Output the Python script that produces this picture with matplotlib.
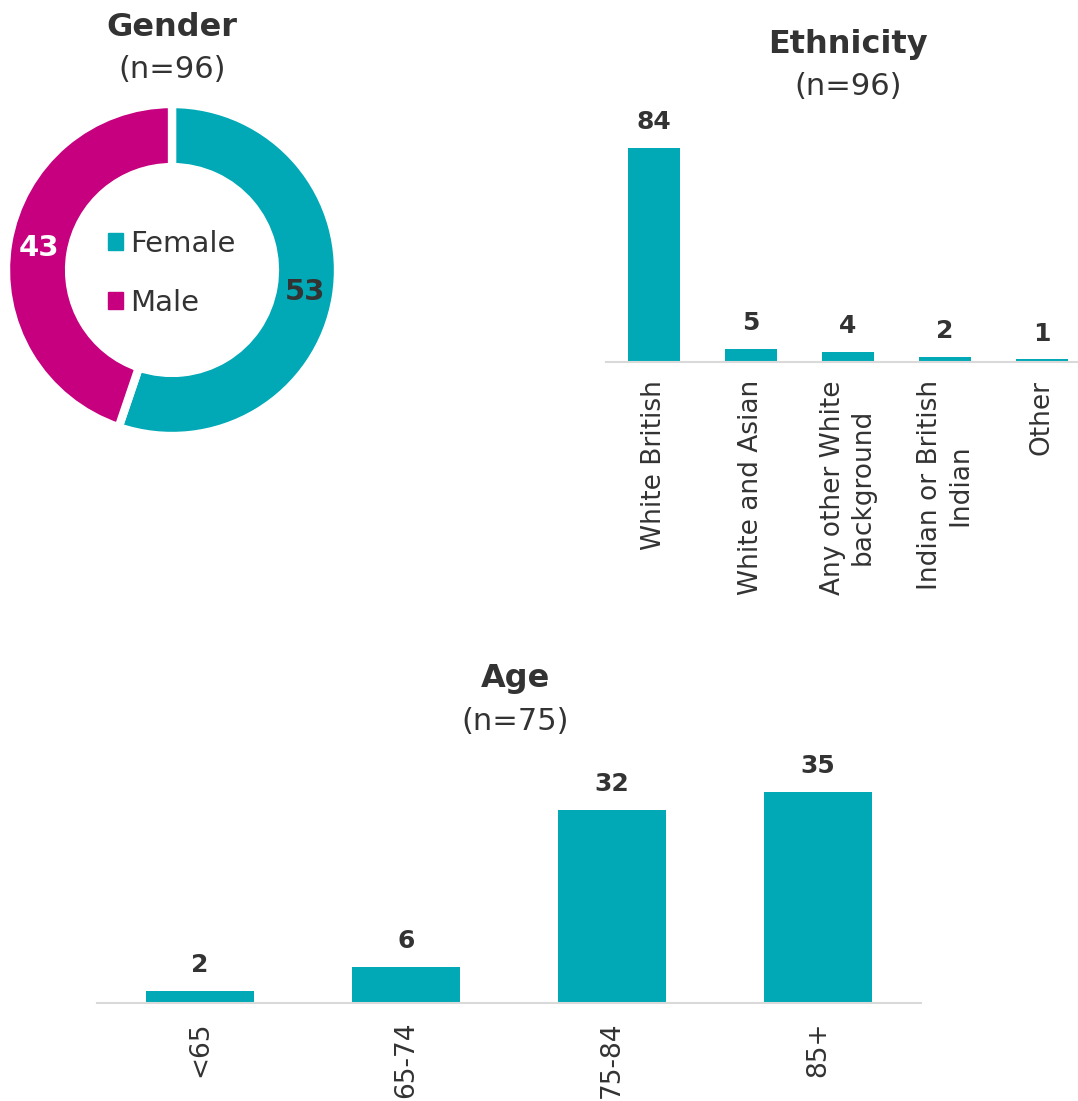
import numpy as np
import matplotlib
matplotlib.use("Agg")
import matplotlib.pyplot as plt
from matplotlib.patches import Patch

# data
gender_labels = ["Female", "Male"]
gender_counts = [53, 43]

eth_labels = ["White British", "White and Asian", "Any other White\nbackground",
              "Indian or British\nIndian", "Other"]
eth_counts = [84, 5, 4, 2, 1]

age_labels = ["<65", "65-74", "75-84", "85+"]
age_counts = [2, 6, 32, 35]

teal = "#00A9B5"
magenta = "#C6007E"
dark = "#333333"
W, H = 1078, 1101

plt.rcParams["font.family"] = "DejaVu Sans"

fig = plt.figure(figsize=(W / 100, H / 100), dpi=100)


def fx(px):
    return px / W


def fy(py):
    return 1 - py / H


def title(x, y, main, sub):
    fig.text(fx(x), fy(y), main, ha="center", va="center", fontsize=23,
             fontweight="bold", color=dark)
    fig.text(fx(x), fy(y + 42), sub, ha="center", va="center", fontsize=22,
             color=dark)


# ---- Gender donut ----
r = 166
ax1 = fig.add_axes([fx(172 - r), fy(270 + r), 2 * r / W, 2 * r / H])
total = sum(gender_counts)
wedges, texts, autotexts = ax1.pie(
    gender_counts, colors=[teal, magenta], startangle=90, counterclock=False,
    radius=1, wedgeprops=dict(width=0.38, edgecolor="white", linewidth=6),
    autopct=lambda p: "%d" % round(p * total / 100), pctdistance=0.81)
for t, c in zip(autotexts, [dark, "white"]):
    t.set_color(c)
    t.set_fontsize(21)
    t.set_fontweight("bold")
ax1.set_xlim(-1, 1)
ax1.set_ylim(-1, 1)
ax1.set_aspect("equal")
handles = [Patch(color=teal), Patch(color=magenta)]
ax1.legend(handles, gender_labels, loc="center", bbox_to_anchor=(0.5, 0.49),
           frameon=False, fontsize=21, handlelength=0.5, handleheight=0.5,
           handletextpad=0.25, labelspacing=1.05, labelcolor=dark)
title(172, 28, "Gender", "(n=96)")

# ---- Ethnicity bars ----
step = 97
ax2 = fig.add_axes([fx(654 - step / 2), fy(362), 5 * step / W, 252 / H])
x = np.arange(len(eth_labels))
bars = ax2.bar(x, eth_counts, width=0.54, color=teal)
ax2.set_xlim(-0.5, len(eth_labels) - 0.5)
ax2.set_ylim(0, 252 / 2.55)
for b, v in zip(bars, eth_counts):
    ax2.annotate(str(v), (b.get_x() + b.get_width() / 2, v), xytext=(0, 10),
                 textcoords="offset points", ha="center", va="bottom",
                 fontsize=18, fontweight="bold", color=dark)
ax2.set_xticks(x)
ax2.set_xticklabels(eth_labels, rotation=90, fontsize=19, color=dark,
                    multialignment="center")
ax2.tick_params(axis="x", length=0, pad=13)
ax2.set_yticks([])
for s in ["top", "right", "left"]:
    ax2.spines[s].set_visible(False)
ax2.spines["bottom"].set_color("#D9D9D9")
ax2.spines["bottom"].set_linewidth(1.5)
title(848, 45, "Ethnicity", "(n=96)")

# ---- Age bars ----
step = 206
ax3 = fig.add_axes([fx(200 - step / 2), fy(1003), 4 * step / W, 253 / H])
x = np.arange(len(age_labels))
bars = ax3.bar(x, age_counts, width=0.52, color=teal)
ax3.set_xlim(-0.5, len(age_labels) - 0.5)
ax3.set_ylim(0, 253 / 6.03)
for b, v in zip(bars, age_counts):
    ax3.annotate(str(v), (b.get_x() + b.get_width() / 2, v), xytext=(0, 10),
                 textcoords="offset points", ha="center", va="bottom",
                 fontsize=18, fontweight="bold", color=dark)
ax3.set_xticks(x)
ax3.set_xticklabels(age_labels, rotation=90, fontsize=19, color=dark)
ax3.tick_params(axis="x", length=0, pad=13)
ax3.set_yticks([])
for s in ["top", "right", "left"]:
    ax3.spines[s].set_visible(False)
ax3.spines["bottom"].set_color("#D9D9D9")
ax3.spines["bottom"].set_linewidth(1.5)
title(515, 679, "Age", "(n=75)")

fig.savefig("out.png", dpi=100)
